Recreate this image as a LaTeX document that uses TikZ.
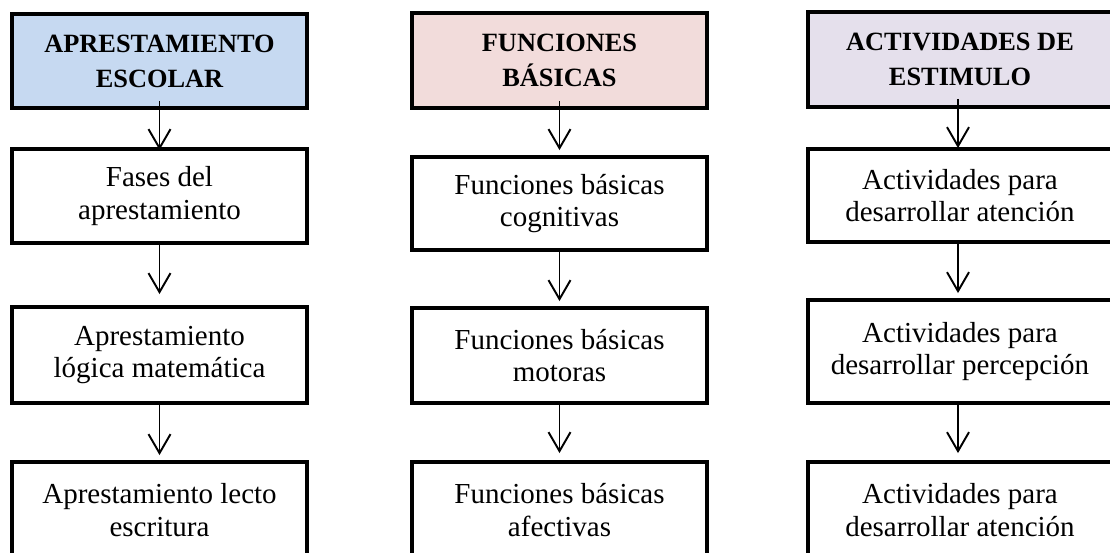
\documentclass[tikz,border=0pt]{standalone}
\usepackage{fontspec}
\setmainfont{Liberation Serif}
\usetikzlibrary{arrows.meta}
\definecolor{C1}{RGB}{198,217,241}
\definecolor{C2}{RGB}{242,220,219}
\definecolor{C3}{RGB}{229,224,236}
\tikzset{caja/.style={draw,line width=2.2pt,align=center,inner sep=0pt,minimum width=5.9cm,font=\fontsize{16.5}{18.4}\selectfont},
  titulo/.style={caja,font=\bfseries\fontsize{15}{20}\selectfont},
  flecha/.style={-{Straight Barb[length=0.38cm,width=0.44cm]},line width=1.1pt}}

\begin{document}
\begin{tikzpicture}
        \clip (0,0) rectangle (22.2,-11.06);
        % columna 1
        \node [titulo,fill=C1,minimum height=1.88cm] (tA) at (3.19,-1.22) {APRESTAMIENTO\\ESCOLAR};
        \node [caja,minimum height=1.88cm] (fA) at (3.19,-3.92) {Fases del\\apresta\-miento};
        \node [caja,minimum height=1.92cm] (gA) at (3.19,-7.10) {Aprestamiento\\lógica matemática};
        \node [caja,minimum height=1.92cm] (hA) at (3.19,-10.20) {Aprestamiento lecto\\escritura};
        \draw [flecha] ([yshift=.18cm]tA.south)--([yshift=-.06cm]fA.north);
        \draw [flecha] (fA.south)--([yshift=.22cm]gA.north);
        \draw [flecha] (gA.south)--([yshift=.1cm]hA.north);
        % columna 2
        \node [titulo,fill=C2,minimum height=1.9cm] (tB) at (11.19,-1.21) {FUNCIONES\\BÁSICAS};
        \node [caja,minimum height=1.86cm] (fB) at (11.19,-4.07) {Funciones básicas\\cognitivas};
        \node [caja,minimum height=1.9cm] (gB) at (11.19,-7.11) {Funciones básicas\\motoras};
        \node [caja,minimum height=1.92cm] (hB) at (11.19,-10.20) {Funciones básicas\\afectivas};
        \draw [flecha] ([yshift=.18cm]tB.south)--([yshift=.1cm]fB.north);
        \draw [flecha] (fB.south)--([yshift=.1cm]gB.north);
        \draw [flecha] (gB.south)--([yshift=.14cm]hB.north);
        % columna 3
        \node [titulo,fill=C3,minimum width=6.08cm,minimum height=1.9cm] (tC) at (19.2,-1.19) {ACTIVIDADES DE\\ESTIMULO};
        \node [caja,minimum width=6.08cm,minimum height=1.86cm] (fC) at (19.2,-3.91) {Actividades para\\desarrollar atención};
        \node [caja,minimum width=6.08cm,minimum height=2.06cm] (gC) at (19.2,-7.03) {Actividades para\\desarrollar percepción};
        \node [caja,minimum width=6.08cm,minimum height=1.92cm] (hC) at (19.2,-10.20) {Actividades para\\desarrollar atención};
        \draw [flecha] ([xshift=-.04cm,yshift=.2cm]tC.south)--([xshift=-.04cm,yshift=-.02cm]fC.north);
        \draw [flecha] ([xshift=-.04cm]fC.south)--([xshift=-.04cm,yshift=.1cm]gC.north);
        \draw [flecha] ([xshift=-.04cm]gC.south)--([xshift=-.04cm,yshift=.14cm]hC.north);
    \end{tikzpicture}
\end{document}
